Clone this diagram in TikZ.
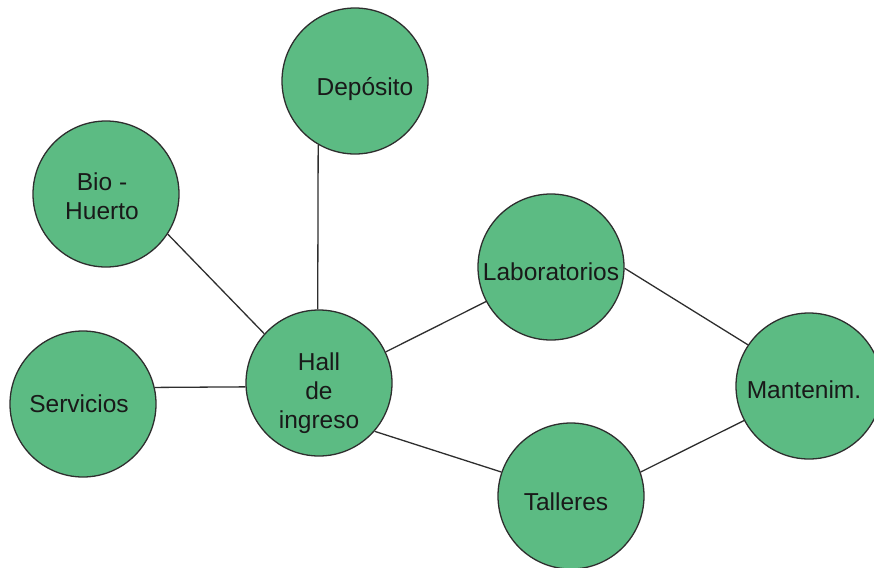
\documentclass[tikz,border=0pt]{standalone}
\usepackage{fontspec}
\setmainfont{Liberation Sans}
\definecolor{room-green}{HTML}{5CBB83}
\definecolor{room-edge}{HTML}{2E2E2E}

\begin{document}
\begin{tikzpicture}[x=0.5pt, y=-0.5pt, font=\fontsize{12.25}{14.5}\selectfont,
  room/.style={circle, draw=room-edge, fill=room-green, line width=0.65pt,
    minimum size=73pt, inner sep=0pt},
  tag/.style={align=center, text=black!90, inner sep=0pt},
  link/.style={draw=room-edge, line width=0.65pt}]
\useasboundingbox (0,0) rectangle (874,568);
\clip (0,0) rectangle (874,568);

% rooms, names set a little below the middle
\node[room, label={[tag, yshift=-5pt]center:Hall \\ de \\ ingreso}] (hall) at (319, 383) {};
\node[room, label={[tag, xshift=5pt, yshift=-4pt]center:Depósito}] (dep) at (355, 81) {};
\node[room, label={[tag, xshift=-2pt, yshift=-1pt]center:Bio - \\ Huerto}] (bio) at (106, 194) {};
\node[room, label={[tag, xshift=-2pt]center:Servicios}] (serv) at (83, 404) {};
\node[room, label={[tag, yshift=-2.5pt]center:Laboratorios}] (lab) at (551, 267) {};
\node[room, label={[tag, xshift=-2.5pt, yshift=-3pt]center:Talleres}] (tall) at (571, 496) {};
\node[room, label={[tag, xshift=-2.5pt, yshift=-2pt]center:Mantenim.}] (mant) at (809, 386) {};

% links between rooms
\draw[link] (dep.240) -- (hall.91);
\draw[link] (bio.327) -- (hall.138);
\draw[link] (serv.13) -- (hall.183);
\draw[link] (hall.25) -- (lab.208);
\draw[link] (hall.319) -- (tall.161);
\draw[link] (lab.359) -- (mant.146);
\draw[link] (tall.19) -- (mant.208);
\end{tikzpicture}
\end{document}
